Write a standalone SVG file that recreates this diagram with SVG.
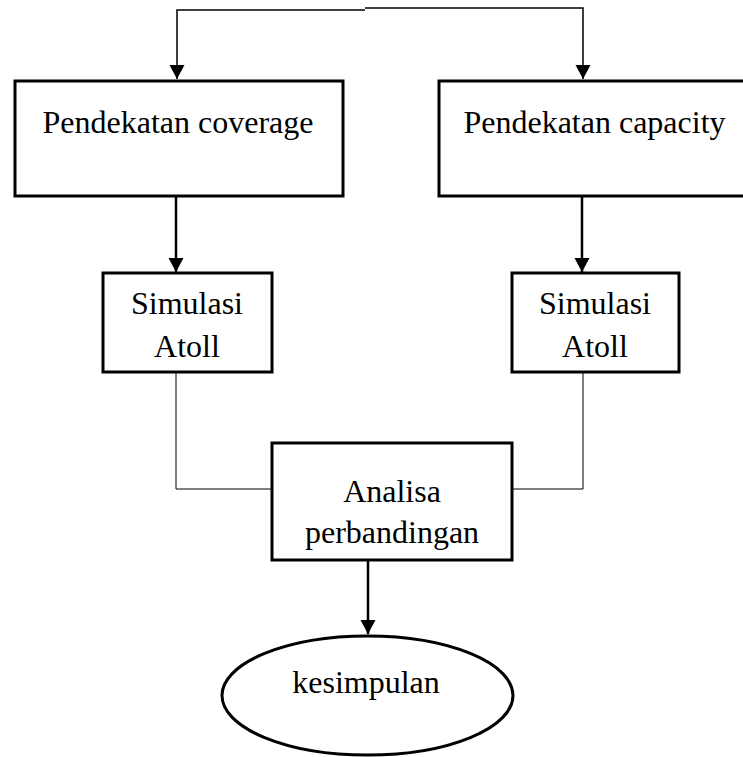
<svg xmlns="http://www.w3.org/2000/svg" width="743" height="757" viewBox="0 0 743 757">
<style>
.box{fill:#fff;stroke:#000;stroke-width:3}
.thin{fill:none;stroke:#000;stroke-width:1}
.arr{fill:none;stroke:#000;stroke-width:2.5}
.top{fill:none;stroke:#000;stroke-width:1.5}
text{font-family:"Liberation Serif","Times New Roman",serif;font-size:32px;fill:#000;text-anchor:middle}
</style>
<defs>
<marker id="ah" markerUnits="userSpaceOnUse" markerWidth="16" markerHeight="16" refX="14" refY="7.5" orient="auto" viewBox="0 0 16 16">
<path d="M0,0 L14,7.5 L0,15 Z" fill="#000"/>
</marker>
</defs>
<rect x="0" y="0" width="743" height="757" fill="#fff"/>
<g id="connectors">
<path class="top" d="M365,10 H177 V79" marker-end="url(#ah)"/>
<path class="top" d="M365,8 H583 V79" marker-end="url(#ah)"/>
<path class="arr" d="M176,196 V272" marker-end="url(#ah)"/>
<path class="arr" d="M582,196 V272" marker-end="url(#ah)"/>
<path class="thin" d="M176,372 V489 H272"/>
<path class="thin" d="M583,372 V489 H512"/>
<path class="arr" d="M368,560 V634" marker-end="url(#ah)"/>
</g>
<g id="coverage">
<rect class="box" x="15" y="81" width="328" height="115"/>
<text x="178" y="133">Pendekatan coverage</text>
</g>
<g id="capacity">
<rect class="box" x="439" y="81" width="330" height="115"/>
<text x="594.5" y="133">Pendekatan capacity</text>
</g>
<g id="simulasi1">
<rect class="box" x="103" y="273" width="169" height="99"/>
<text x="187" y="314">Simulasi</text>
<text x="187" y="357">Atoll</text>
</g>
<g id="simulasi2">
<rect class="box" x="512" y="273" width="167" height="99"/>
<text x="595" y="314">Simulasi</text>
<text x="595" y="357">Atoll</text>
</g>
<g id="analisa">
<rect class="box" x="272" y="443" width="240" height="117"/>
<text x="392" y="502">Analisa</text>
<text x="392" y="543">perbandingan</text>
</g>
<g id="kesimpulan">
<ellipse class="box" cx="367.5" cy="695.5" rx="145.5" ry="59.5"/>
<text x="366" y="693">kesimpulan</text>
</g>
</svg>
